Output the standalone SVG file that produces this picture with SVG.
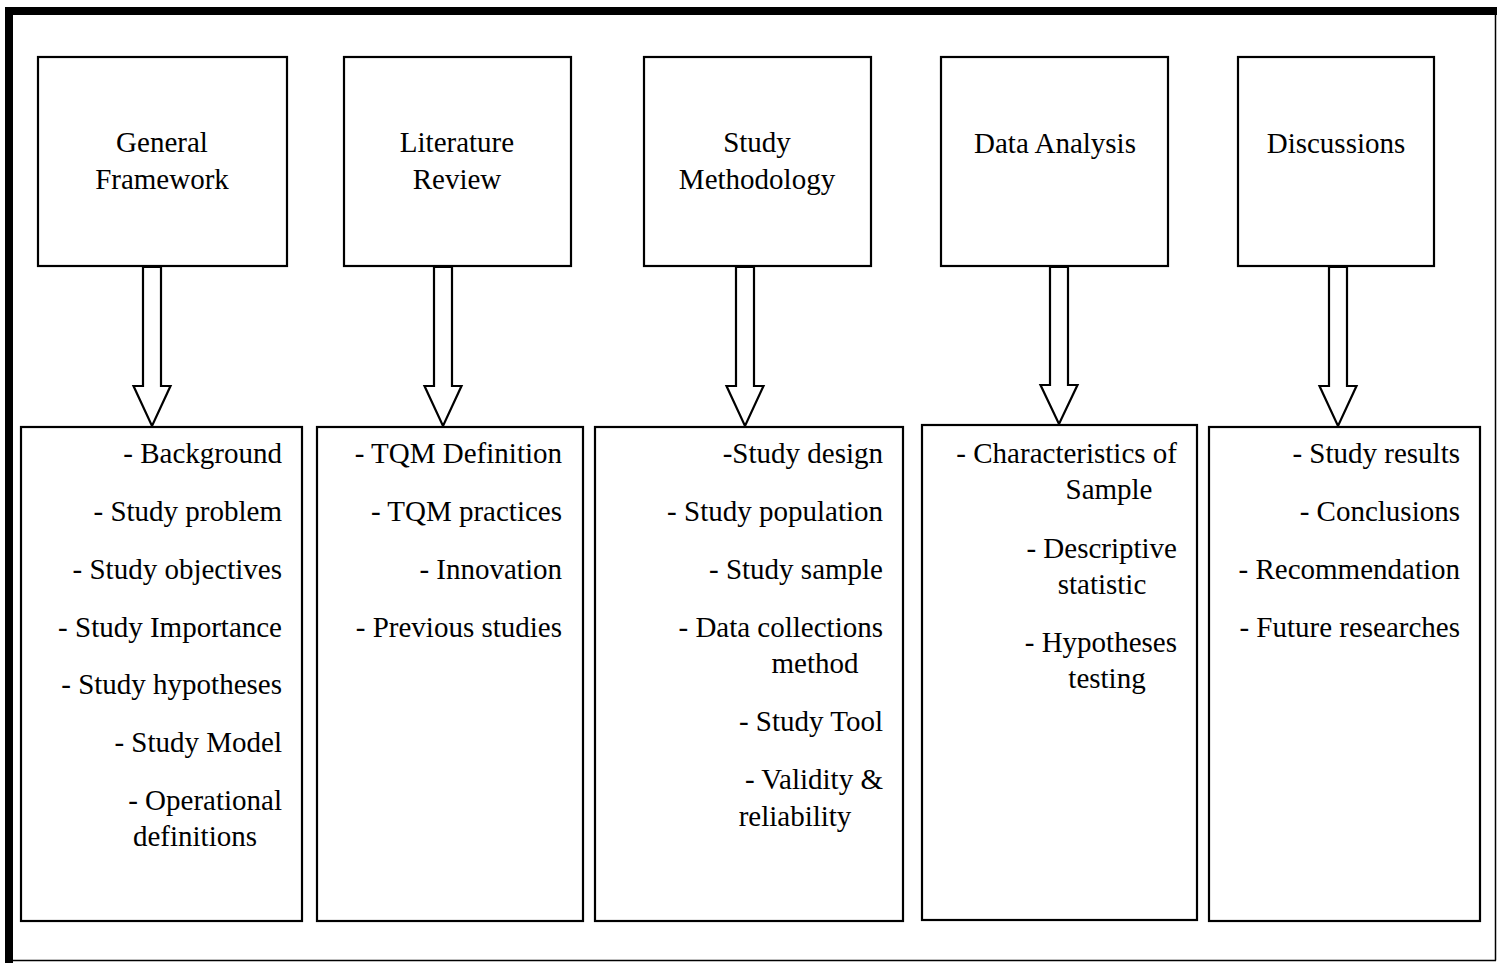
<svg xmlns="http://www.w3.org/2000/svg" width="1497" height="963" viewBox="0 0 1497 963">
<style>
.box{fill:#fff;stroke:#000;stroke-width:2.2}
.arrow{fill:#fff;stroke:#000;stroke-width:2.2;stroke-linejoin:miter}
text{font-family:'Liberation Serif','Times New Roman',Times,'DejaVu Serif',serif;font-size:29px;fill:#000}
.c{text-anchor:middle}
.r{text-anchor:end}
</style>
<rect x="0" y="0" width="1497" height="963" fill="#fff"/>
<g id="frame">
<line x1="9" y1="11" x2="1497" y2="11" stroke="#000" stroke-width="8"/>
<line x1="9" y1="7" x2="9" y2="963" stroke="#000" stroke-width="8"/>
<line x1="1495.5" y1="11" x2="1495.5" y2="960.5" stroke="#000" stroke-width="1.5"/>
<line x1="5" y1="960.5" x2="1496" y2="960.5" stroke="#000" stroke-width="1.5"/>
</g>
<g id="connectors">
<polygon class="arrow" points="143,267 161,267 161,386 170.5,386 152,426 133.5,386 143,386"/>
<polygon class="arrow" points="434,267 452,267 452,386 461.5,386 443,426 424.5,386 434,386"/>
<polygon class="arrow" points="736,267 754,267 754,386 763.5,386 745,426 726.5,386 736,386"/>
<polygon class="arrow" points="1050,267 1068,267 1068,385 1077.5,385 1059,424 1040.5,385 1050,385"/>
<polygon class="arrow" points="1329,267 1347,267 1347,386 1356.5,386 1338,426 1319.5,386 1329,386"/>
</g>
<g id="top1"><rect class="box" x="38" y="57" width="249" height="209"/>
<text class="c" x="162" y="152">General</text><text class="c" x="162" y="189">Framework</text></g>
<g id="top2"><rect class="box" x="344" y="57" width="227" height="209"/>
<text class="c" x="457" y="152">Literature</text><text class="c" x="457" y="189">Review</text></g>
<g id="top3"><rect class="box" x="644" y="57" width="227" height="209"/>
<text class="c" x="757" y="152">Study</text><text class="c" x="757" y="189">Methodology</text></g>
<g id="top4"><rect class="box" x="941" y="57" width="227" height="209"/>
<text class="c" x="1055" y="153">Data Analysis</text></g>
<g id="top5"><rect class="box" x="1238" y="57" width="196" height="209"/>
<text class="c" x="1336" y="153">Discussions</text></g>
<g id="bottom1"><rect class="box" x="21" y="427" width="281" height="494"/>
<text class="r" x="282" y="463">- Background</text>
<text class="r" x="282" y="521">- Study problem</text>
<text class="r" x="282" y="579">- Study objectives</text>
<text class="r" x="282" y="637">- Study Importance</text>
<text class="r" x="282" y="694">- Study hypotheses</text>
<text class="r" x="282" y="752">- Study Model</text>
<text class="r" x="282" y="810">- Operational</text>
<text class="c" x="195" y="846">definitions</text></g>
<g id="bottom2"><rect class="box" x="317" y="427" width="266" height="494"/>
<text class="r" x="562" y="463">- TQM Definition</text>
<text class="r" x="562" y="521">- TQM practices</text>
<text class="r" x="562" y="579">- Innovation</text>
<text class="r" x="562" y="637">- Previous studies</text></g>
<g id="bottom3"><rect class="box" x="595" y="427" width="308" height="494"/>
<text class="r" x="883" y="463">-Study design</text>
<text class="r" x="883" y="521">- Study population</text>
<text class="r" x="883" y="579">- Study sample</text>
<text class="r" x="883" y="637">- Data collections</text>
<text class="c" x="815" y="673">method</text>
<text class="r" x="883" y="731">- Study Tool</text>
<text class="r" x="883" y="789">- Validity &amp;</text>
<text class="c" x="795" y="826">reliability</text></g>
<g id="bottom4"><rect class="box" x="922" y="425" width="275" height="495"/>
<text class="r" x="1177" y="463">- Characteristics of</text>
<text class="c" x="1109" y="499">Sample</text>
<text class="r" x="1177" y="558">- Descriptive</text>
<text class="c" x="1102" y="594">statistic</text>
<text class="r" x="1177" y="652">- Hypotheses</text>
<text class="c" x="1107" y="688">testing</text></g>
<g id="bottom5"><rect class="box" x="1209" y="427" width="271" height="494"/>
<text class="r" x="1460" y="463">- Study results</text>
<text class="r" x="1460" y="521">- Conclusions</text>
<text class="r" x="1460" y="579">- Recommendation</text>
<text class="r" x="1460" y="637">- Future researches</text></g>
</svg>
